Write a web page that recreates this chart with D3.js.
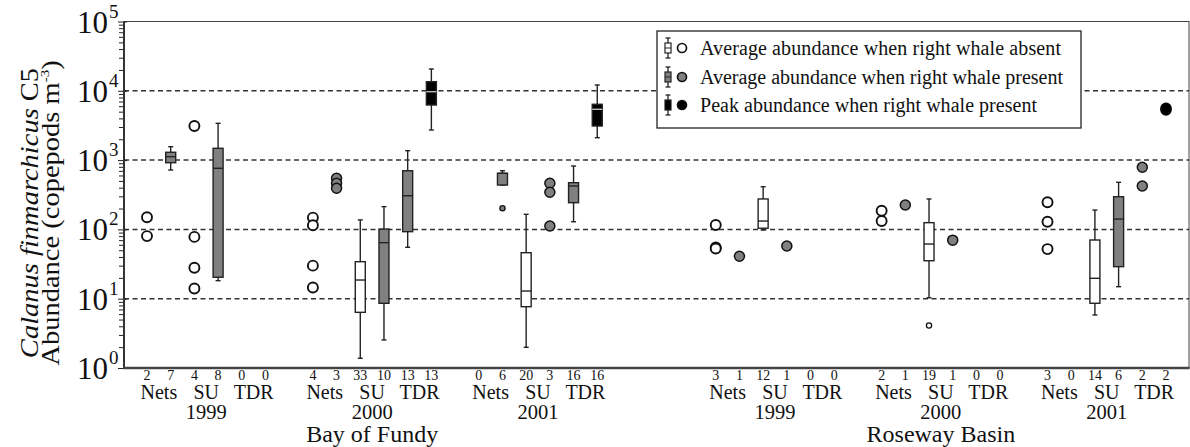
<!DOCTYPE html>
<html><head><meta charset="utf-8">
<script src="https://cdn.jsdelivr.net/npm/d3@7"></script>
<style>body{margin:0;background:#fff}svg{display:block;font-family:"Liberation Serif","Times New Roman",serif}</style>
</head><body><svg id="c" width="1190" height="447"></svg>
<script>
const regions = ["Bay of Fundy", "Roseway Basin"];
const years = ["1999", "2000", "2001"];
const methods = ["Nets", "SU", "TDR"];
const yTicks = [1, 10, 100, 1000, 10000, 100000];
const yTickExponents = ["0", "1", "2", "3", "4", "5"];
const gridValues = [10, 100, 1000, 10000];
// sample sizes per region-year, columns: Nets absent, Nets present, SU absent, SU present, TDR avg present, TDR peak present
const counts = [
  [2, 7, 4, 8, 0, 0], [4, 3, 33, 10, 13, 13], [0, 6, 20, 3, 16, 16],
  [3, 1, 12, 1, 0, 0], [2, 1, 19, 1, 0, 0], [3, 0, 14, 6, 2, 2]
];
// region, year, column, whiskerLow, q1, median, q3, whiskerHigh
const boxStats = [
  [0, 0, 1, 720, 917, 1120, 1297, 1561],
  [0, 0, 3, 18.2, 20.4, 762, 1480, 3396],
  [0, 1, 2, 1.38, 6.36, 18.6, 34.2, 137],
  [0, 1, 3, 2.54, 8.58, 64.3, 101, 213],
  [0, 1, 4, 55.2, 92.7, 306, 703, 1367],
  [0, 1, 5, 2718, 6237, 9710, 13530, 20640],
  [0, 2, 1, 437, 437, 645, 645, 703],
  [0, 2, 2, 1.99, 7.67, 12.9, 46.1, 165],
  [0, 2, 4, 129, 243, 423, 472, 822],
  [0, 2, 5, 2105, 3105, 5410, 6390, 12130],
  [1, 0, 2, 98, 104, 132, 275, 413],
  [1, 1, 2, 10.3, 35.3, 61.5, 125, 275],
  [1, 2, 2, 5.82, 8.59, 19.7, 70.3, 190],
  [1, 2, 3, 14.9, 29, 141, 296, 478]
];
// region, year, column, value
const points = [
  [0, 0, 0, 150], [0, 0, 0, 80],
  [0, 0, 2, 3100], [0, 0, 2, 78], [0, 0, 2, 28], [0, 0, 2, 14],
  [0, 1, 0, 148], [0, 1, 0, 115], [0, 1, 0, 30], [0, 1, 0, 14.5],
  [0, 1, 1, 546], [0, 1, 1, 463], [0, 1, 1, 392],
  [0, 2, 3, 463], [0, 2, 3, 343], [0, 2, 3, 112],
  [1, 0, 0, 116], [1, 0, 0, 55], [1, 0, 0, 53],
  [1, 0, 1, 41], [1, 0, 3, 57.6],
  [1, 1, 0, 186], [1, 1, 0, 132], [1, 1, 1, 225], [1, 1, 3, 70],
  [1, 2, 0, 246], [1, 2, 0, 129], [1, 2, 0, 52],
  [1, 2, 4, 787], [1, 2, 4, 423],
  [1, 2, 5, 5590], [1, 2, 5, 5300]
];
const outliers = [[0, 2, 1, 202], [1, 1, 2, 4.1]];
const legendLabels = [
  "Average abundance when right whale absent",
  "Average abundance when right whale present",
  "Peak abundance when right whale present"
];
const columnFill = ["#ffffff", "#808080", "#ffffff", "#808080", "#808080", "#000000"];
const legendFill = ["#ffffff", "#808080", "#000000"];

const svg = d3.select("#c");
const L = 124, R = 1189, T = 21.5, B = 368;
const y = d3.scaleLog().domain([1, 1e5]).range([B, T]);
const colIndex = (r, yr, c) => r * 24 + yr * 7 + c;
const x = d3.scaleLinear().domain([0, 43]).range([147, 1166]);

// frame
svg.append("rect").attr("x", L).attr("y", T).attr("width", R - L).attr("height", B - T)
  .attr("fill", "none").attr("stroke", "#444").attr("stroke-width", 1);

// grid
svg.selectAll(".grid").data(gridValues).join("line")
  .attr("x1", L).attr("x2", R).attr("y1", d => y(d)).attr("y2", d => y(d))
  .attr("stroke", "#333").attr("stroke-width", 1.5).attr("stroke-dasharray", "5,3.5");

// y axis
const yAxis = d3.axisLeft(y).tickValues(y.ticks()).tickSize(5).tickFormat("");
const ga = svg.append("g").attr("transform", `translate(${L},0)`).call(yAxis);
ga.select(".domain").remove();
ga.selectAll(".tick line").attr("stroke", "#222").attr("stroke-width", 1)
  .attr("x1", d => yTicks.includes(d) ? 3 : 1).attr("x2", d => yTicks.includes(d) ? -6 : -5);
svg.append("line").attr("x1", L).attr("x2", L).attr("y1", T).attr("y2", B + 1)
  .attr("stroke", "#333").attr("stroke-width", 2);
svg.append("line").attr("x1", L - 1).attr("x2", R + 0.5).attr("y1", B).attr("y2", B)
  .attr("stroke", "#444").attr("stroke-width", 2.5);

const tl = svg.append("g");
yTicks.forEach((v, i) => {
  tl.append("text").attr("x", 108).attr("y", y(v) + 11).attr("text-anchor", "end")
    .attr("font-size", 31).attr("fill", "#111").text("10");
  tl.append("text").attr("x", 109).attr("y", y(v) - 4).attr("text-anchor", "start")
    .attr("font-size", 19).attr("fill", "#111").text(yTickExponents[i]);
});

// y title
const yt = svg.append("g").attr("transform", "translate(0,213) scale(0.9,1) rotate(-90)");
const t1 = yt.append("text").attr("x", 0).attr("y", 42).attr("text-anchor", "middle").attr("font-size", 28.5).attr("fill", "#111");
t1.append("tspan").attr("font-style", "italic").text("Calanus finmarchicus");
t1.append("tspan").text(" C5");
const t2 = yt.append("text").attr("x", 0).attr("y", 66).attr("text-anchor", "middle").attr("font-size", 28.5).attr("fill", "#111");
t2.append("tspan").text("Abundance (copepods m");
t2.append("tspan").attr("font-size", 15).attr("dy", -12).text("-3");
t2.append("tspan").attr("dy", 12).text(")");

// boxes
const bw = 10, cw = 5;
const bg = svg.append("g");
boxStats.forEach(([r, yr, c, wl, q1, md, q3, wh]) => {
  const cx = x(colIndex(r, yr, c));
  const g = bg.append("g");
  const s = "#222";
  g.append("line").attr("x1", cx).attr("x2", cx).attr("y1", y(wh)).attr("y2", y(q3)).attr("stroke", s).attr("stroke-width", 1.4);
  g.append("line").attr("x1", cx).attr("x2", cx).attr("y1", y(q1)).attr("y2", y(wl)).attr("stroke", s).attr("stroke-width", 1.4);
  [wl, wh].forEach(v => g.append("line").attr("x1", cx - cw / 2).attr("x2", cx + cw / 2)
    .attr("y1", y(v)).attr("y2", y(v)).attr("stroke", s).attr("stroke-width", 1.4));
  g.append("rect").attr("x", cx - bw / 2).attr("y", y(q3)).attr("width", bw).attr("height", Math.max(1, y(q1) - y(q3)))
    .attr("fill", columnFill[c]).attr("stroke", s).attr("stroke-width", 1.4);
  g.append("line").attr("x1", cx - bw / 2).attr("x2", cx + bw / 2).attr("y1", y(md)).attr("y2", y(md))
    .attr("stroke", c === 5 ? "#bbbbbb" : s).attr("stroke-width", 1.4);
});

// points
svg.append("g").selectAll("circle").data(points).join("circle")
  .attr("cx", d => x(colIndex(d[0], d[1], d[2]))).attr("cy", d => y(d[3])).attr("r", 5)
  .attr("fill", d => columnFill[d[2]])
  .attr("stroke", d => d[2] === 5 ? "#000" : "#111").attr("stroke-width", d => columnFill[d[2]] === "#ffffff" ? 1.9 : 1.5);
svg.append("g").selectAll("circle").data(outliers).join("circle")
  .attr("cx", d => x(colIndex(d[0], d[1], d[2]))).attr("cy", d => y(d[3])).attr("r", 2.6)
  .attr("fill", d => columnFill[d[2]]).attr("stroke", "#111").attr("stroke-width", 1.3);

// x labels
const xl = svg.append("g").attr("fill", "#111");
regions.forEach((reg, r) => {
  years.forEach((yr, yi) => {
    counts[r * 3 + yi].forEach((n, c) => {
      xl.append("text").attr("x", x(colIndex(r, yi, c))).attr("y", 379.5).attr("text-anchor", "middle")
        .attr("font-size", 14).text(n);
    });
    methods.forEach((m, mi) => {
      const cx = (x(colIndex(r, yi, mi * 2)) + x(colIndex(r, yi, mi * 2 + 1))) / 2;
      xl.append("text").attr("x", cx).attr("y", 398.5).attr("text-anchor", "middle").attr("font-size", 20).text(m);
    });
    const sx = (x(colIndex(r, yi, 2)) + x(colIndex(r, yi, 3))) / 2;
    xl.append("text").attr("x", sx).attr("y", 418.5).attr("text-anchor", "middle").attr("font-size", 20.5).text(yr);
  });
  const rx = (x(colIndex(r, 1, 2)) + x(colIndex(r, 1, 3))) / 2;
  xl.append("text").attr("x", rx).attr("y", 441.5).attr("text-anchor", "middle").attr("font-size", 24).text(reg);
});

// legend
const lg = svg.append("g");
lg.append("rect").attr("x", 657).attr("y", 31).attr("width", 424).attr("height", 97)
  .attr("fill", "#fff").attr("stroke", "#222").attr("stroke-width", 1.3);
const rowY = [48, 77, 105];
const textLen = [361, 363, 337];
legendLabels.forEach((lab, i) => {
  const cy = rowY[i], ix = 668;
  lg.append("line").attr("x1", ix).attr("x2", ix).attr("y1", cy - 10).attr("y2", cy + 10).attr("stroke", "#222").attr("stroke-width", 1.3);
  [cy - 10, cy + 10].forEach(v => lg.append("line").attr("x1", ix - 2.5).attr("x2", ix + 2.5).attr("y1", v).attr("y2", v).attr("stroke", "#222").attr("stroke-width", 1.3));
  lg.append("rect").attr("x", ix - 3).attr("y", cy - 5).attr("width", 6).attr("height", 10)
    .attr("fill", legendFill[i]).attr("stroke", "#222").attr("stroke-width", 1.2);
  lg.append("line").attr("x1", ix - 3).attr("x2", ix + 3).attr("y1", cy).attr("y2", cy).attr("stroke", i === 2 ? "#000" : "#222").attr("stroke-width", 1);
  lg.append("circle").attr("cx", 682).attr("cy", cy).attr("r", 4.5)
    .attr("fill", legendFill[i]).attr("stroke", "#111").attr("stroke-width", 1.7);
  lg.append("text").attr("x", 700).attr("y", cy + 7).attr("font-size", 20).attr("fill", "#111")
    .attr("textLength", textLen[i]).attr("lengthAdjust", "spacing").text(lab);
});
</script></body></html>
